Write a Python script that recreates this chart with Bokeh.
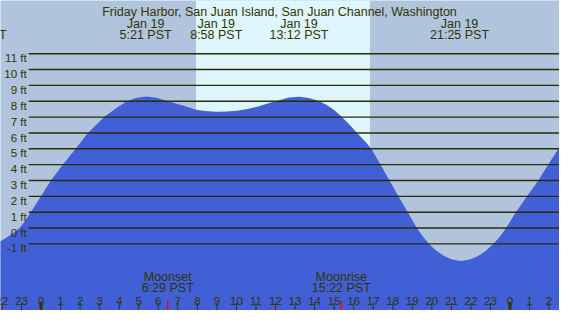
from bokeh.plotting import figure
from bokeh.models import Range1d, BoxAnnotation
from bokeh.core.properties import value
from bokeh.embed import file_html
from bokeh.resources import INLINE

# ---------------- data ----------------
title = "Friday Harbor, San Juan Island, San Juan Channel, Washington"

# tide height (ft), hours relative to Jan 19 00:00
tide_hours = [-2.1, -1.75, -1.4, -1.1, -0.8, -0.53, 0.0, 0.5, 1.11, 1.77, 2.4, 3.23,
              3.9, 4.39, 4.9, 5.39, 5.9, 6.38, 6.9, 7.38, 7.93, 8.4, 8.97, 9.5, 10.03,
              10.5, 11.02, 11.6, 12.19, 12.7, 13.2, 13.7, 14.18, 14.6, 15.0, 15.4,
              15.8, 16.25, 16.6, 16.9, 17.38, 17.83, 18.29, 18.77, 19.23, 19.55,
              19.85, 20.2, 20.6, 21.0, 21.47, 21.95, 22.35, 22.75, 23.1, 23.45,
              23.8, 24.3, 24.87, 25.45, 25.95, 26.6]
tide_ft = [-0.85, -0.6, -0.3, 0.0, 0.48, 1.0, 2.0, 3.0, 4.0, 5.0, 6.0, 7.0,
           7.6, 8.0, 8.22, 8.3, 8.22, 8.04, 7.85, 7.68, 7.47, 7.38, 7.33, 7.35, 7.4,
           7.5, 7.64, 7.85, 8.07, 8.23, 8.28, 8.2, 8.03, 7.78, 7.45, 7.0,
           6.5, 5.9, 5.45, 5.0, 4.0, 3.0, 2.0, 1.0, 0.0, -0.55,
           -1.0, -1.4, -1.75, -1.97, -2.08, -1.98, -1.78, -1.45, -1.05, -0.6,
           0.0, 1.0, 2.0, 3.0, 4.0, 5.25]

# tide extremes (labels at top)
ext_dates = ["Jan 18", "Jan 19", "Jan 19", "Jan 19", "Jan 19"]
ext_times = ["20:44 PST", "5:21 PST", "8:58 PST", "13:12 PST", "21:25 PST"]
ext_dayoffset = [-1, 0, 0, 0, 0]

# moon events
moon_names = ["Moonset", "Moonrise"]
moon_times = ["6:29 PST", "15:22 PST"]

# daylight
sunrise = "7:56"
sunset = "16:50"

# height levels and hour ticks
ft_levels = [-1, 0, 1, 2, 3, 4, 5, 6, 7, 8, 9, 10, 11]
hour_ticks = list(range(-2, 27))
hour_labels = [str(h % 24) for h in hour_ticks]


def to_hours(s):
    hh, mm = s.split(" ")[0].split(":")
    return int(hh) + int(mm) / 60.0


# ---------------- layout helpers (reference pixel -> data) ----------------
X0_PX, PX_PER_HR = 41.7, 20.1
Y0_PX, PX_PER_FT = 239.3, 16.67


def hx(px):
    return (px - X0_PX) / PX_PER_HR


def fy(py):
    return (Y0_PX - py) / PX_PER_FT


W, H = 559, 310
TXT = "#333300"
FONT = value("Liberation Sans")
BIG = "12.5px"
SMALL = "11.6px"

p = figure(width=W, height=H, output_backend="svg", toolbar_location=None,
           x_range=Range1d(hx(0), hx(575)), y_range=Range1d(fy(326), fy(0)),
           min_border=0, x_axis_type=None, y_axis_type=None)
p.background_fill_color = "#B0C4DE"
p.border_fill_color = "#B0C4DE"
p.outline_line_color = None
p.xgrid.visible = False
p.ygrid.visible = False

# daylight band
p.add_layout(BoxAnnotation(left=to_hours(sunrise), right=to_hours(sunset),
                           fill_color="#DEF7FF", fill_alpha=1.0, line_color=None,
                           level="underlay"))

# water
bottom = p.y_range.start
p.varea(x=tide_hours, y1=[bottom] * len(tide_hours), y2=tide_ft,
        fill_color="#4160D5", fill_alpha=1.0)

# level lines
p.segment(x0=[hx(29)] * len(ft_levels), x1=[hx(575)] * len(ft_levels),
          y0=ft_levels, y1=ft_levels, line_color="#2b2b08", line_width=1.4)
p.text(x=[hx(27)] * len(ft_levels), y=[v - 4.3 / PX_PER_FT for v in ft_levels],
       text=[f"{v} ft" for v in ft_levels], text_font=FONT, text_font_size=SMALL,
       text_color=TXT, text_align="right", text_baseline="alphabetic")

# title and extreme labels
p.text(x=[hx(287)], y=[fy(12)], text=[title], text_font=FONT, text_font_size=BIG,
       text_color=TXT, text_align="center", text_baseline="alphabetic")
ext_x = [to_hours(t) + 24 * d for t, d in zip(ext_times, ext_dayoffset)]
vis = [i for i, d in enumerate(ext_dayoffset) if d == 0]  # date line of Jan 18 lies off-page
p.text(x=[ext_x[i] for i in vis], y=[fy(24.3)] * len(vis), text=[ext_dates[i] for i in vis],
       text_font=FONT, text_font_size=BIG, text_color=TXT, text_align="center",
       text_baseline="alphabetic")
p.text(x=ext_x, y=[fy(36)] * len(ext_x), text=ext_times, text_font=FONT,
       text_font_size=BIG, text_color=TXT, text_align="center", text_baseline="alphabetic")

# moon labels
moon_x = [to_hours(t) for t in moon_times]
p.text(x=moon_x, y=[fy(290.7)] * 2, text=moon_names, text_font=FONT,
       text_font_size=BIG, text_color=TXT, text_align="center", text_baseline="alphabetic")
p.text(x=moon_x, y=[fy(302.7)] * 2, text=moon_times, text_font=FONT,
       text_font_size=BIG, text_color=TXT, text_align="center", text_baseline="alphabetic")
p.segment(x0=moon_x, x1=moon_x, y0=[fy(326)] * 2, y1=[fy(316)] * 2,
          line_color="red", line_width=1.5)

# hour ticks and labels
thin = [h for h in hour_ticks if h % 24 != 0]
thick = [h for h in hour_ticks if h % 24 == 0]
p.segment(x0=thin, x1=thin, y0=[fy(326)] * len(thin), y1=[fy(318)] * len(thin),
          line_color=TXT, line_width=1)
p.segment(x0=thick, x1=thick, y0=[fy(326)] * len(thick), y1=[fy(317)] * len(thick),
          line_color=TXT, line_width=3)
p.text(x=hour_ticks, y=[fy(316)] * len(hour_ticks), text=hour_labels, text_font=FONT,
       text_font_size=SMALL, text_color=TXT, text_align="center", text_baseline="alphabetic")

open("out.html", "w").write(file_html(p, INLINE))
